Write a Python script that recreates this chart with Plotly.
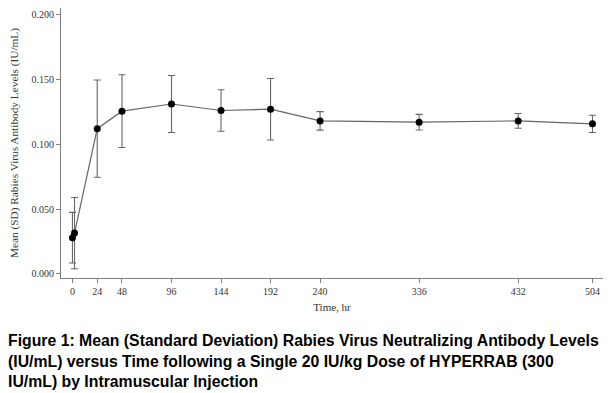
import plotly.graph_objects as go

time_hr = [0, 2, 24, 48, 96, 144, 192, 240, 336, 432, 504]
mean_level = [0.028, 0.0315, 0.112, 0.1255, 0.131, 0.126, 0.127, 0.118, 0.117, 0.118, 0.1157]
sd_level = [0.0195, 0.0275, 0.0375, 0.028, 0.022, 0.016, 0.0237, 0.0071, 0.006, 0.0057, 0.0066]
x_ticks = [0, 24, 48, 96, 144, 192, 240, 336, 432, 504]
y_ticks = [0.0, 0.05, 0.10, 0.15, 0.20]

caption = ("Figure 1: Mean (Standard Deviation) Rabies Virus Neutralizing Antibody Levels<br>"
           "(IU/mL) versus Time following a Single 20 IU/kg Dose of HYPERRAB (300<br>"
           "IU/mL) by Intramuscular Injection")

fig = go.Figure()
fig.add_trace(go.Scatter(
    x=time_hr, y=mean_level, mode="lines+markers",
    line=dict(color="#666666", width=1.2),
    marker=dict(color="black", size=7),
    error_y=dict(type="data", array=sd_level, visible=True,
                 color="#666666", thickness=1.1, width=3.5),
    showlegend=False, hoverinfo="skip",
))

serif = "Liberation Serif, Times New Roman, serif"
W, H = 613, 393
ml, mr, mt, mb = 61, 10, 8, 115
fig.update_layout(
    width=W, height=H,
    margin=dict(l=ml, r=mr, t=mt, b=mb),
    paper_bgcolor="white", plot_bgcolor="white",
    font=dict(family=serif, size=10, color="#333333"),
    xaxis=dict(
        range=[-11.1, 514.2], tickvals=x_ticks, ticktext=[str(v) for v in x_ticks],
        showline=True, linecolor="#808080", linewidth=1,
        ticks="outside", ticklen=4, tickcolor="#808080",
        showgrid=False, zeroline=False, automargin=False,
        title=dict(text="Time, hr", font=dict(family=serif, size=11, color="#333333"), standoff=7),
    ),
    yaxis=dict(
        range=[-0.0031, 0.2050], tickvals=y_ticks, tickformat=".3f",
        showline=True, linecolor="#808080", linewidth=1,
        ticks="outside", ticklen=4, tickcolor="#808080",
        showgrid=False, zeroline=False, automargin=False,
        title=dict(text="Mean (SD) Rabies Virus Antibody Levels (IU/mL)",
                   font=dict(family=serif, size=11.3, color="#333333"), standoff=10),
    ),
)

plot_w = W - ml - mr
plot_h = H - mt - mb
fig.add_annotation(
    text=caption, xref="paper", yref="paper",
    x=(6 - ml) / plot_w, y=-(330 - (H - mb)) / plot_h,
    xanchor="left", yanchor="top", align="left", showarrow=False,
    font=dict(family="Liberation Sans, Arial, sans-serif", size=15.8, color="black", weight="bold"),
)

fig.write_html("out.html", config={"displayModeBar": False},
               post_script="document.body.style.margin='0';")
